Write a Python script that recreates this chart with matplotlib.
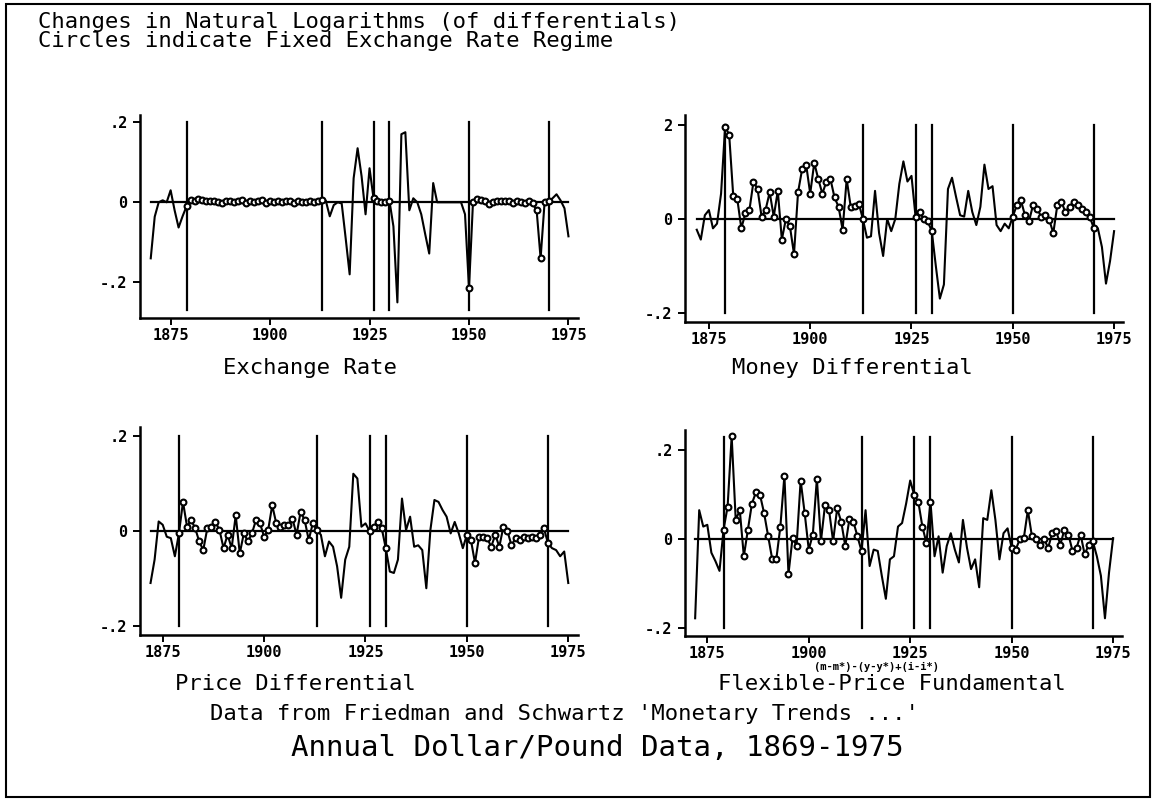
import numpy as np
import matplotlib
matplotlib.use("Agg")
import matplotlib.pyplot as plt
from matplotlib.patches import Rectangle

MONO = "DejaVu Sans Mono"

# ---------------- data (annual changes in natural logs) ----------------
exch_years = list(range(1870, 1976))
exchange_rate = [
    -0.140, -0.036, 0.000, 0.005, 0.000, 0.030, -0.020, -0.063, -0.035, -0.010,   # 1870-1879
    0.006, 0.004, 0.008, 0.005, 0.003, 0.002, 0.004, 0.000, -0.002, 0.003,        # 1880-1889
    0.004, 0.001, 0.003, 0.005, -0.002, 0.002, 0.000, 0.003, 0.006, -0.001,       # 1890-1899
    0.002, 0.001, 0.003, 0.000, 0.002, 0.004, -0.002, 0.003, 0.001, 0.000,        # 1900-1909
    0.002, 0.000, 0.003, 0.005, 0.004, -0.035, -0.007, 0.000, -0.003, -0.090,     # 1910-1919
    -0.180, 0.060, 0.135, 0.065, -0.030, 0.085, 0.010, 0.003, 0.001, 0.000,       # 1920-1929
    0.004, -0.060, -0.250, 0.170, 0.175, -0.020, 0.010, 0.000, -0.030, -0.080,    # 1930-1939
    -0.128, 0.048, 0.000, 0.000, 0.000, 0.000, 0.000, 0.000, 0.000, -0.030,       # 1940-1949
    -0.215, 0.000, 0.008, 0.005, 0.002, -0.004, 0.001, 0.003, 0.004, 0.002,       # 1950-1959
    0.003, -0.002, 0.002, 0.001, -0.001, 0.002, -0.003, -0.020, -0.140, 0.000,    # 1960-1969
    0.002, 0.010, 0.020, 0.005, -0.015, -0.085,                                   # 1970-1975
]

diff_years = list(range(1872, 1976))
money_diff = [
    -0.023, -0.044, 0.008, 0.019, -0.020, -0.010, 0.054, 0.197,                   # 1872-1879
    0.180, 0.050, 0.043, -0.020, 0.012, 0.019, 0.080, 0.064, 0.005, 0.020,        # 1880-1889
    0.057, 0.005, 0.060, -0.044, 0.000, -0.016, -0.075, 0.057, 0.106, 0.116,      # 1890-1899
    0.054, 0.120, 0.085, 0.054, 0.080, 0.085, 0.046, 0.026, -0.023, 0.085,        # 1900-1909
    0.026, 0.028, 0.033, 0.000, -0.040, -0.037, 0.060, -0.030, -0.079, 0.000,     # 1910-1919
    -0.026, 0.000, 0.075, 0.123, 0.080, 0.092, 0.005, 0.015, 0.000, -0.005,       # 1920-1929
    -0.026, -0.100, -0.170, -0.140, 0.064, 0.088, 0.047, 0.008, 0.005, 0.060,     # 1930-1939
    0.015, -0.013, 0.026, 0.116, 0.064, 0.070, -0.013, -0.026, -0.010, -0.020,    # 1940-1949
    0.005, 0.030, 0.040, 0.008, -0.005, 0.030, 0.022, 0.005, 0.008, -0.002,       # 1950-1959
    -0.030, 0.030, 0.036, 0.015, 0.026, 0.036, 0.029, 0.022, 0.015, 0.005,        # 1960-1969
    -0.020, -0.020, -0.060, -0.138, -0.090, -0.026,                               # 1970-1975
]

price_diff = [
    -0.109, -0.060, 0.020, 0.013, -0.012, -0.015, -0.053, -0.005,                 # 1872-1879
    0.061, 0.009, 0.023, 0.006, -0.022, -0.040, 0.006, 0.009, 0.019, 0.002,       # 1880-1889
    -0.036, -0.008, -0.036, 0.033, -0.047, -0.005, -0.022, -0.005, 0.023, 0.016,  # 1890-1899
    -0.012, 0.002, 0.054, 0.016, 0.009, 0.013, 0.013, 0.026, -0.008, 0.040,       # 1900-1909
    0.023, -0.019, 0.016, 0.002, -0.008, -0.053, -0.022, -0.033, -0.074, -0.140,  # 1910-1919
    -0.060, -0.033, 0.120, 0.110, 0.009, 0.016, 0.000, 0.009, 0.019, 0.006,       # 1920-1929
    -0.036, -0.085, -0.088, -0.060, 0.068, 0.002, 0.030, -0.033, -0.030, -0.040,  # 1930-1939
    -0.120, 0.002, 0.065, 0.061, 0.044, 0.030, -0.005, 0.019, -0.005, -0.036,     # 1940-1949
    -0.008, -0.019, -0.067, -0.012, -0.012, -0.015, -0.033, -0.008, -0.033, 0.009,# 1950-1959
    0.000, -0.030, -0.015, -0.019, -0.012, -0.015, -0.012, -0.015, -0.008, 0.006, # 1960-1969
    -0.026, -0.036, -0.040, -0.053, -0.043, -0.109,                               # 1970-1975
]

fundamental = [
    -0.179, 0.065, 0.028, 0.032, -0.031, -0.050, -0.072, 0.021,                   # 1872-1879
    0.073, 0.232, 0.043, 0.065, -0.039, 0.021, 0.080, 0.106, 0.099, 0.058,        # 1880-1889
    0.006, -0.046, -0.046, 0.028, 0.143, -0.079, 0.002, -0.015, 0.132, 0.058,     # 1890-1899
    -0.024, 0.010, 0.136, -0.005, 0.076, 0.065, -0.005, 0.069, 0.039, -0.016,     # 1900-1909
    0.044, 0.039, 0.006, -0.027, 0.065, -0.061, -0.024, -0.027, -0.083, -0.135,   # 1910-1919
    -0.046, -0.039, 0.028, 0.036, 0.080, 0.132, 0.099, 0.084, 0.028, -0.009,      # 1920-1929
    0.084, -0.039, 0.006, -0.076, -0.016, 0.013, -0.024, -0.053, 0.043, -0.020,   # 1930-1939
    -0.068, -0.046, -0.109, 0.047, 0.043, 0.110, 0.043, -0.046, 0.013, 0.024,     # 1940-1949
    -0.020, -0.024, -0.001, 0.002, 0.065, 0.006, -0.001, -0.013, 0.000, -0.020,   # 1950-1959
    0.013, 0.017, -0.013, 0.021, 0.010, -0.027, -0.020, 0.010, -0.035, -0.013,    # 1960-1969
    -0.005, -0.039, -0.083, -0.179, -0.076, 0.002,                                # 1970-1975
]

regime_breaks = [1879, 1913, 1926, 1930, 1950, 1970]
fixed_periods = [(1879, 1913), (1926, 1930), (1950, 1970)]

x_ticks = [1875, 1900, 1925, 1950, 1975]
y_ticks = [-0.2, 0.0, 0.2]

panel_titles = ["Exchange Rate", "Money Differential",
                "Price Differential", "Flexible-Price Fundamental"]
y_labels_std = ["-.2", "0", ".2"]
y_labels_money = ["-.2", "0", "2"]

# ---------------- figure ----------------
W, H = 1161, 806
fig = plt.figure(figsize=(W / 100, H / 100), dpi=100)
fig.patch.set_facecolor("white")


def fig_rect(x0, x1, ytop, ybot):
    return [x0 / W, 1 - ybot / H, (x1 - x0) / W, (ybot - ytop) / H]


panels = [
    dict(rect=fig_rect(140, 578, 115, 318), years=exch_years, vals=exchange_rate,
         xlim=(1867.3, 1977.4), ylim=(-0.289, 0.218), vl=(-0.27, 0.2),
         ylabels=y_labels_std, title=panel_titles[0], tpos=(310, 368)),
    dict(rect=fig_rect(685, 1123, 115, 322), years=diff_years, vals=money_diff,
         xlim=(1869.1, 1977.2), ylim=(-0.22, 0.222), vl=(-0.2, 0.2),
         ylabels=y_labels_money, title=panel_titles[1], tpos=(852, 368)),
    dict(rect=fig_rect(140, 578, 427, 635), years=diff_years, vals=price_diff,
         xlim=(1869.4, 1977.4), ylim=(-0.218, 0.218), vl=(-0.2, 0.2),
         ylabels=y_labels_std, title=panel_titles[2], tpos=(295, 684)),
    dict(rect=fig_rect(685, 1122, 430, 636), years=diff_years, vals=fundamental,
         xlim=(1869.5, 1977.2), ylim=(-0.219, 0.246), vl=(-0.2, 0.23),
         ylabels=y_labels_std, title=panel_titles[3], tpos=(892, 684)),
]

for p in panels:
    ax = fig.add_axes(p["rect"])
    yrs = np.array(p["years"])
    v = np.array(p["vals"])
    ax.set_xlim(*p["xlim"])
    ax.set_ylim(*p["ylim"])
    # zero line
    ax.plot([yrs[0], yrs[-1]], [0, 0], color="black", lw=1.6, zorder=2)
    # regime lines
    for b in regime_breaks:
        ax.plot([b, b], p["vl"], color="black", lw=1.6, zorder=2)
    # series
    ax.plot(yrs, v, color="black", lw=1.5, zorder=3)
    mask = np.zeros(len(yrs), dtype=bool)
    for a, b in fixed_periods:
        mask |= (yrs >= a) & (yrs <= b)
    ax.plot(yrs[mask], v[mask], linestyle="none", marker="o", ms=4.2,
            mfc="white", mec="black", mew=1.5, zorder=4)
    # axes styling
    for s in ["top", "right"]:
        ax.spines[s].set_visible(False)
    for s in ["left", "bottom"]:
        ax.spines[s].set_linewidth(1.8)
    ax.set_xticks(x_ticks)
    ax.set_xticklabels([str(t) for t in x_ticks])
    ax.set_yticks(y_ticks)
    ax.set_yticklabels(p["ylabels"])
    ax.tick_params(axis="x", direction="out", length=5, width=1.4, pad=2)
    ax.tick_params(axis="y", direction="out", length=5, width=1.4, pad=4)
    for lab in ax.get_xticklabels() + ax.get_yticklabels():
        lab.set_fontfamily(MONO)
        lab.set_fontweight("bold")
        lab.set_fontsize(11)
    ax.patch.set_alpha(0)
    fig.text(p["tpos"][0] / W, 1 - p["tpos"][1] / H, p["title"],
             family=MONO, fontsize=16, ha="center", va="center")

# headers / footers
fig.text(38 / W, 1 - 22 / H, "Changes in Natural Logarithms (of differentials)",
         family=MONO, fontsize=16, ha="left", va="center")
fig.text(38 / W, 1 - 41 / H, "Circles indicate Fixed Exchange Rate Regime",
         family=MONO, fontsize=16, ha="left", va="center")
fig.text(876 / W, 1 - 667 / H, "(m-m*)-(y-y*)+(i-i*)",
         family=MONO, fontsize=7.5, fontweight="bold", ha="center", va="center")
fig.text(564 / W, 1 - 714 / H, "Data from Friedman and Schwartz 'Monetary Trends ...'",
         family=MONO, fontsize=16, ha="center", va="center")
fig.text(597 / W, 1 - 748 / H, "Annual Dollar/Pound Data, 1869-1975",
         family=MONO, fontsize=21, ha="center", va="center")

# outer frame
fig.add_artist(Rectangle((6 / W, 1 - 797 / H), (1150 - 6) / W, (797 - 4) / H,
                         transform=fig.transFigure, fill=False,
                         edgecolor="black", lw=1.5))

fig.savefig("out.png", dpi=100, facecolor="white")
